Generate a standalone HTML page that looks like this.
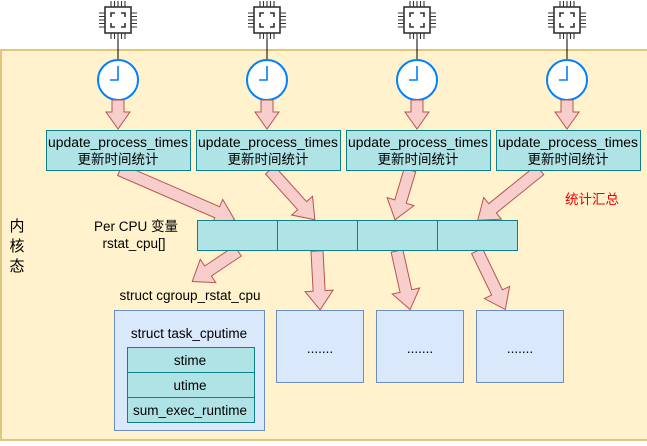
<!DOCTYPE html>
<html><head><meta charset="utf-8"><style>
body{margin:0;width:647px;height:441px;overflow:hidden;background:#fff;font-family:"Liberation Sans","Noto Sans CJK SC",sans-serif}
</style></head><body>
<svg width="647" height="441" xmlns="http://www.w3.org/2000/svg" font-family="Liberation Sans, Noto Sans CJK SC, sans-serif">
<defs>
<g id="cpu" fill="none" stroke="#333" stroke-width="1.6">
<rect x="-13" y="-13" width="26" height="26"/>
<path d="M-7,-3V-7H-3M3,-7H7V-3M7,3V7H3M-3,7H-7V3"/>
<path d="M-7,-13V-19M-3.5,-13V-19M0,-13V-19M3.5,-13V-19M7,-13V-19M-7,13V19M-3.5,13V19M0,13V19M3.5,13V19M7,13V19M-13,-7H-19M-13,-3.5H-19M-13,0H-19M-13,3.5H-19M-13,7H-19M13,-7H19M13,-3.5H19M13,0H19M13,3.5H19M13,7H19" stroke-width="1.1"/>
</g>
<g id="clk">
<circle r="20" fill="#fff" stroke="#007fff" stroke-width="2"/>
<path d="M0,-14V0H-8" fill="none" stroke="#007fff" stroke-width="1.6"/>
</g>
</defs>
<rect x="1" y="50" width="660" height="390" fill="#fff2cc" stroke="#d6b656" stroke-width="1.5"/>
<g>
<use href="#cpu" x="118" y="20"/><use href="#cpu" x="267" y="20"/><use href="#cpu" x="417" y="20"/><use href="#cpu" x="567" y="20"/>
<path d="M118,39V60M267,39V60M417,39V60M567,39V60" stroke="#000" stroke-width="1"/>
<use href="#clk" x="118" y="80"/><use href="#clk" x="267" y="80"/><use href="#clk" x="417" y="80"/><use href="#clk" x="567" y="80"/>
</g>
<g fill="#f8cecc" stroke="#b85450" stroke-width="1">
<polygon transform="translate(118,100) rotate(90)" points="0,-6 12,-6 12,-12 29,0 12,12 12,6 0,6"/>
<polygon transform="translate(267,100) rotate(90)" points="0,-6 12,-6 12,-12 29,0 12,12 12,6 0,6"/>
<polygon transform="translate(417,100) rotate(90)" points="0,-6 12,-6 12,-12 29,0 12,12 12,6 0,6"/>
<polygon transform="translate(567,100) rotate(90)" points="0,-6 12,-6 12,-12 29,0 12,12 12,6 0,6"/>
<polygon transform="translate(120,170) rotate(23.5)" points="0,-6 106,-6 106,-14 125,0 106,14 106,6 0,6"/>
<polygon transform="translate(270,170) rotate(48)" points="0,-6 48,-6 48,-14 67,0 48,14 48,6 0,6"/>
<polygon transform="translate(410,170) rotate(106.7)" points="0,-6 33,-6 33,-14 52,0 33,14 33,6 0,6"/>
<polygon transform="translate(540,170) rotate(141.1)" points="0,-6 61,-6 61,-14 80,0 61,14 61,6 0,6"/>
<polygon transform="translate(238,251) rotate(146.3)" points="0,-6 36,-6 36,-14 55,0 36,14 36,6 0,6"/>
<polygon transform="translate(317,251) rotate(87)" points="0,-6 40,-6 40,-14 59,0 40,14 40,6 0,6"/>
<polygon transform="translate(397,251) rotate(77.4)" points="0,-6 41,-6 41,-14 60,0 41,14 41,6 0,6"/>
<polygon transform="translate(477,251) rotate(64.2)" points="0,-6 46,-6 46,-14 65,0 46,14 46,6 0,6"/>
</g>
<g fill="#b0e3e6" stroke="#0e8088" stroke-width="1">
<rect x="46.5" y="130.5" width="144" height="40"/>
<rect x="196.5" y="130.5" width="144" height="40"/>
<rect x="346.5" y="130.5" width="144" height="40"/>
<rect x="496.5" y="130.5" width="144" height="40"/>
<rect x="197.5" y="220.5" width="80" height="30"/>
<rect x="277.5" y="220.5" width="80" height="30"/>
<rect x="357.5" y="220.5" width="80" height="30"/>
<rect x="437.5" y="220.5" width="80" height="30"/>
</g>
<g fill="#dae8fc" stroke="#6c8ebf" stroke-width="1">
<rect x="114.5" y="310.5" width="150" height="120"/>
<rect x="276.5" y="310.5" width="87" height="72"/>
<rect x="376.5" y="310.5" width="87" height="72"/>
<rect x="476.5" y="310.5" width="87" height="72"/>
</g>
<g fill="#b0e3e6" stroke="#0e8088" stroke-width="1">
<rect x="127.5" y="347.5" width="127" height="25"/>
<rect x="127.5" y="372.5" width="127" height="25"/>
<rect x="127.5" y="397.5" width="127" height="25"/>
</g>
<g font-size="13.5" text-anchor="middle" fill="#000">
<text x="118" y="147" textLength="140" lengthAdjust="spacingAndGlyphs">update_process_times</text><text x="118" y="164">更新时间统计</text>
<text x="268" y="147" textLength="140" lengthAdjust="spacingAndGlyphs">update_process_times</text><text x="268" y="164">更新时间统计</text>
<text x="418" y="147" textLength="140" lengthAdjust="spacingAndGlyphs">update_process_times</text><text x="418" y="164">更新时间统计</text>
<text x="568" y="147" textLength="140" lengthAdjust="spacingAndGlyphs">update_process_times</text><text x="568" y="164">更新时间统计</text>
<text x="136" y="231">Per CPU 变量</text>
<text x="134" y="248" >rstat_cpu[]</text>
<text x="190" y="300">struct cgroup_rstat_cpu</text>
<text x="189" y="338">struct task_cputime</text>
<text x="190" y="365">stime</text>
<text x="190" y="390">utime</text>
<text x="190" y="415">sum_exec_runtime</text>
<text x="320" y="353">.......</text>
<text x="420" y="353">.......</text>
<text x="520" y="353">.......</text>
<text x="592" y="204" fill="#e00">统计汇总</text>
<text x="17" y="231" font-size="15">内</text>
<text x="17" y="251" font-size="15">核</text>
<text x="17" y="271" font-size="15">态</text>
</g>
</svg>
</body></html>
